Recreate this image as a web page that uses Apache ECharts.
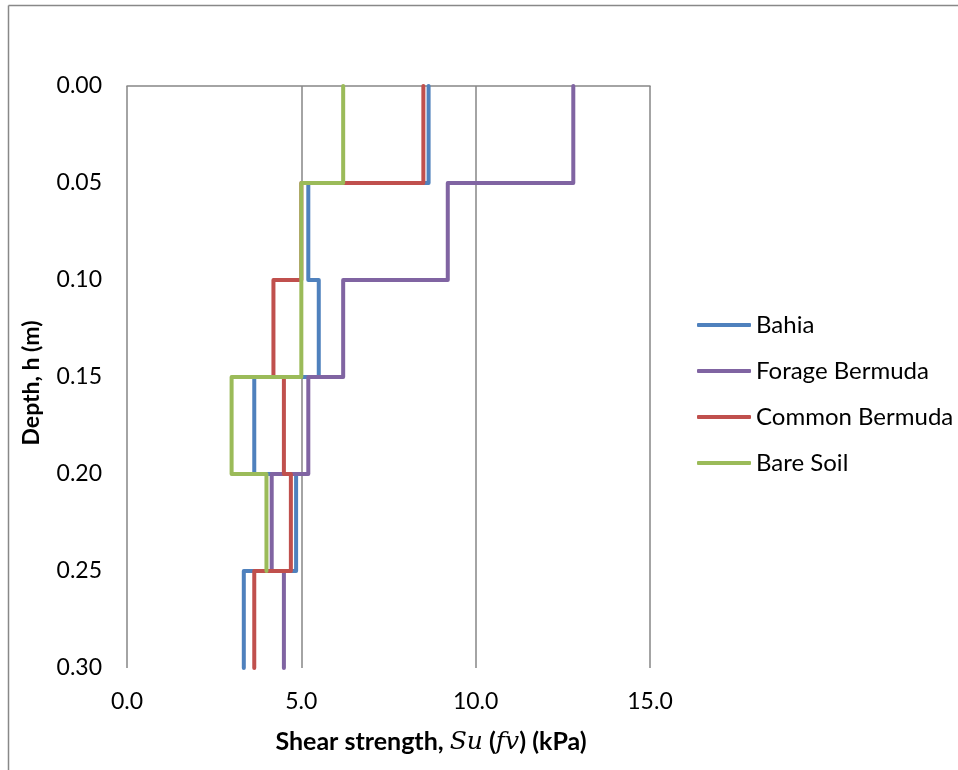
<!DOCTYPE html>
<html>
<head>
<meta charset="utf-8">
<script src="https://cdn.jsdelivr.net/npm/echarts@6/dist/echarts.min.js"></script>
<style>
html,body{margin:0;padding:0;background:#fff;}
#chart{width:958px;height:770px;}
</style>
</head>
<body>
<div id="chart"></div>
<script>
// Layer boundaries (m)
var depths = [0, 0.05, 0.10, 0.15, 0.20, 0.25, 0.30];
// Shear strength per layer (kPa)
var bahia = [8.65, 5.2, 5.5, 3.65, 4.85, 3.35];
var forageBermuda = [12.8, 9.2, 6.2, 5.2, 4.15, 4.5];
var commonBermuda = [8.5, 5.0, 4.2, 4.5, 4.7, 3.65];
var bareSoil = [6.2, 5.0, 5.0, 3.0, 4.0];
var seriesNames = ['Bahia', 'Forage Bermuda', 'Common Bermuda', 'Bare Soil'];
var seriesValues = [bahia, forageBermuda, commonBermuda, bareSoil];
var colors = ['#4F81BD', '#8064A2', '#C0504D', '#9BBB59'];

function stepPoints(vals) {
  var pts = [];
  for (var i = 0; i < vals.length; i++) {
    pts.push([vals[i], depths[i]]);
    pts.push([vals[i], depths[i + 1]]);
  }
  return pts;
}

var FONT = 'Lato';
var chart = echarts.init(document.getElementById('chart'), null, {renderer: 'canvas'});
var option = {
  backgroundColor: '#fff',
  animation: false,
  grid: {left: 127, top: 86, width: 523, height: 582, containLabel: false},
  legend: {
    orient: 'vertical',
    left: 697,
    top: 313,
    padding: 0,
    itemWidth: 54,
    itemHeight: 4,
    itemGap: 22,
    icon: 'roundRect',
    textStyle: {fontFamily: FONT, fontSize: 24, color: '#000', lineHeight: 24},
    data: seriesNames
  },
  xAxis: [{
    type: 'value',
    min: 0, max: 15, interval: 5,
    position: 'bottom',
    axisLine: {show: false},
    axisTick: {show: false},
    splitLine: {show: true, lineStyle: {color: '#868686', width: 1.5}},
    axisLabel: {
      margin: 22,
      fontFamily: FONT, fontSize: 23, color: '#000',
      formatter: function (v) { return v.toFixed(1); }
    }
  }, {
    type: 'value',
    min: 0, max: 15, interval: 5,
    position: 'top',
    axisLine: {show: true, lineStyle: {color: '#868686', width: 1.5}},
    axisTick: {show: false},
    axisLabel: {show: false},
    splitLine: {show: false}
  }],
  yAxis: {
    type: 'value',
    inverse: true,
    min: 0, max: 0.3, interval: 0.05,
    axisLine: {show: false},
    axisTick: {show: false},
    splitLine: {show: false},
    axisLabel: {
      margin: 25,
      fontFamily: FONT, fontSize: 23, color: '#000',
      formatter: function (v) { return v.toFixed(2); }
    }
  },
  series: seriesNames.map(function (n, k) {
    return {
      name: n,
      type: 'line',
      data: stepPoints(seriesValues[k]),
      symbol: 'none',
      color: colors[k],
      lineStyle: {color: colors[k], width: 4, join: 'round', cap: 'round'},
      itemStyle: {color: colors[k]},
      z: 2 + k
    };
  }),
  graphic: [
    {type: 'line', shape: {x1: 8.5, y1: 5.5, x2: 958, y2: 5.5}, style: {stroke: '#888', lineWidth: 1.5}},
    {type: 'line', shape: {x1: 8.5, y1: 5.5, x2: 8.5, y2: 770}, style: {stroke: '#888', lineWidth: 1.5}},
    {
      type: 'text', x: 431, y: 742,
      style: {
        text: '{b|Shear strength, }{i|Su}{b| (}{i|fv}{b|) (kPa)}',
        align: 'center', verticalAlign: 'middle',
        rich: {
          b: {fontFamily: FONT, fontSize: 25, fontWeight: 'bold', fill: '#000'},
          i: {fontFamily: 'DejaVu Serif', fontSize: 25, fontStyle: 'italic', fill: '#000'}
        }
      }
    },
    {
      type: 'text', x: 32, y: 383, rotation: Math.PI / 2,
      style: {
        text: 'Depth, h (m)',
        align: 'center', verticalAlign: 'middle',
        fontFamily: FONT, fontSize: 23, fontWeight: 'bold', fill: '#000'
      }
    }
  ]
};
chart.setOption(option);
</script>
</body>
</html>
